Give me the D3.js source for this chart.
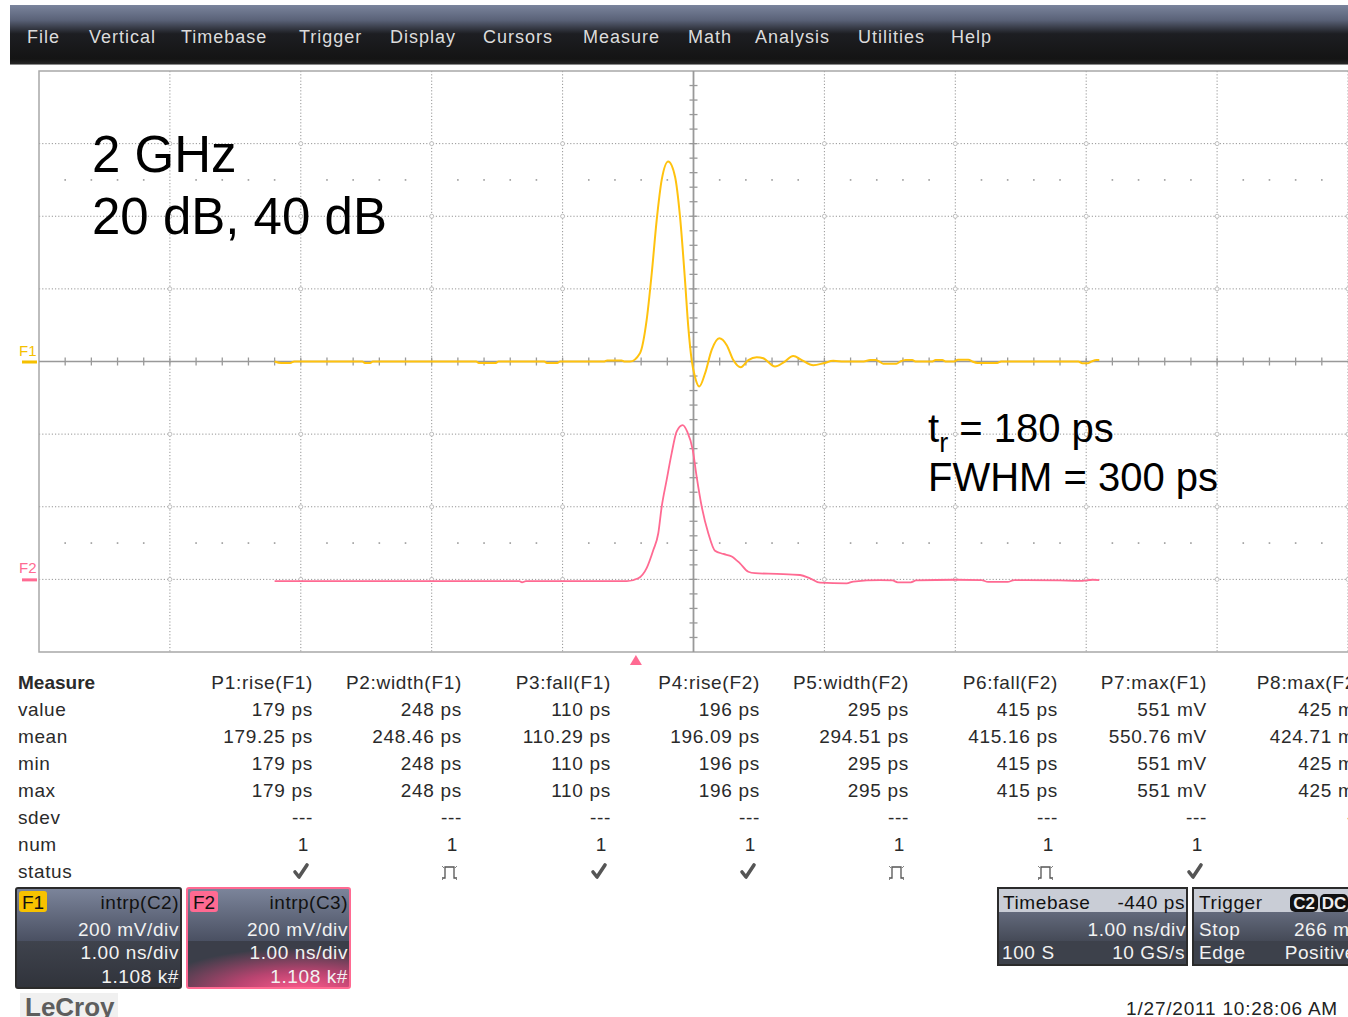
<!DOCTYPE html>
<html><head><meta charset="utf-8">
<script src="https://cdn.jsdelivr.net/npm/d3@7"></script>
<style>
html,body{margin:0;padding:0;background:#fff;overflow:hidden}
text{font-family:"Liberation Sans",Arial,sans-serif}
</style></head><body><svg id="c" width="1348" height="1017"></svg>
<script>
// ---------------- DATA ----------------
const menuItems = ["File","Vertical","Timebase","Trigger","Display","Cursors","Measure","Math","Analysis","Utilities","Help"];
// F1 trace: [time ns, mV]
const f1Samples = [
 [-3.20,0],[-3.15,-4],[-3.08,-4],[-3.05,0],[-2.53,0],[-2.51,-4],[-2.47,-4],[-2.45,0],
 [-1.66,0],[-1.64,-4],[-1.51,-4],[-1.49,0],[-1.14,0],[-1.12,-4],[-1.04,-4],[-1.02,0],
 [-0.68,0],[-0.66,3],[-0.55,3],[-0.53,0],[-0.485,0],[-0.409,23],[-0.358,114],[-0.319,243],
 [-0.281,390],[-0.243,500],[-0.193,551],[-0.141,509],[-0.103,399],[-0.065,224],[-0.040,96],
 [-0.014,4],[0.011,-42],[0.044,-69],[0.088,-33],[0.139,32],[0.197,64],[0.254,45],[0.304,4],
 [0.361,-16],[0.419,4],[0.483,12],[0.533,9],[0.623,-14],[0.686,-3],[0.762,15],[0.827,4],
 [0.915,-10],[0.992,-5],[1.068,2],[1.15,0],[1.30,0],[1.35,4],[1.39,4],[1.42,0],[1.45,-6],
 [1.55,-6],[1.58,0],[1.62,4],[1.67,4],[1.70,0],[1.82,0],[1.85,4],[1.90,4],[1.93,0],[1.99,0],
 [2.02,5],[2.10,5],[2.13,0],[2.17,-4],[2.32,-4],[2.35,0],[2.94,0],[2.97,-5],[3.01,-5],[3.04,0],
 [3.08,4],[3.10,4]
];
// F2 trace: [time ns, mV]
const f2Samples = [
 [-3.20,-5],[-1.33,-5],[-1.31,-8],[-1.28,-5],[-0.510,-5],[-0.422,3],[-0.358,31],[-0.307,81],
 [-0.269,127],[-0.243,200],[-0.205,274],[-0.167,347],[-0.129,407],[-0.083,425],[-0.048,407],
 [-0.006,357],[0.024,283],[0.063,200],[0.113,127],[0.164,79],[0.228,70],[0.292,63],[0.355,44],
 [0.419,21],[0.470,17],[0.636,15],[0.814,12],[0.890,3],[0.967,-9],[1.170,-11],[1.221,-6],
 [1.425,-2],[1.52,-3],[1.56,-8],[1.66,-8],[1.70,-3],[2.00,-1],[2.20,-2],[2.25,-7],[2.40,-7],
 [2.45,-2],[2.80,-3],[2.95,-4],[3.05,-1],[3.10,-2]
];
const measureRows = ["value","mean","min","max","sdev","num","status"];
const measureCols = ["P1:rise(F1)","P2:width(F1)","P3:fall(F1)","P4:rise(F2)","P5:width(F2)","P6:fall(F2)","P7:max(F1)","P8:max(F2)"];
const measValue = ["179 ps","248 ps","110 ps","196 ps","295 ps","415 ps","551 mV","425 mV"];
const measMean  = ["179.25 ps","248.46 ps","110.29 ps","196.09 ps","294.51 ps","415.16 ps","550.76 mV","424.71 mV"];
const measMin   = ["179 ps","248 ps","110 ps","196 ps","295 ps","415 ps","551 mV","425 mV"];
const measMax   = ["179 ps","248 ps","110 ps","196 ps","295 ps","415 ps","551 mV","425 mV"];
const measSdev  = ["---","---","---","---","---","---","---","---"];
const measNum   = ["1","1","1","1","1","1","1","1"];
const measStatus= ["ok","pulse","ok","ok","pulse","pulse","ok","ok"];
const triggerTime = -0.44; // ns
const f2OffsetMv = -600;

// ---------------- LAYOUT ----------------
const W=1348,H=1017;
const plotL=39, plotR=1348, plotT=71, plotB=652;
const menuLayoutX=[27,89,181,299,390,483,583,688,755,858,951];
const svg=d3.select("#c");
const defs=svg.append("defs");
function lg(id,stops,x2=0,y2=1){const g=defs.append("linearGradient").attr("id",id).attr("x1",0).attr("y1",0).attr("x2",x2).attr("y2",y2);
 stops.forEach(s=>g.append("stop").attr("offset",s[0]).attr("stop-color",s[1]));}
lg("menuG",[[0,"#7a849c"],[0.25,"#5a6278"],[0.48,"#1d1e22"],[0.9,"#141414"],[1,"#2a2a2a"]]);
lg("boxTop",[[0,"#7c859b"],[1,"#4a5062"]]);
lg("boxBot",[[0,"#3f434d"],[1,"#30333b"]]);
lg("tbMid",[[0,"#636a7c"],[1,"#454a57"]]);
const rg=defs.append("radialGradient").attr("id","pinkG").attr("cx",0.7).attr("cy",1.05).attr("r",0.9).attr("fx",0.7).attr("fy",1.05);
rg.append("stop").attr("offset",0).attr("stop-color","#ff5a8c");
rg.append("stop").attr("offset",0.45).attr("stop-color","#b84470");
rg.append("stop").attr("offset",1).attr("stop-color","#3b3e49");
defs.append("clipPath").attr("id","scr").append("rect").attr("x",0).attr("y",0).attr("width",W).attr("height",H);

// menu bar
svg.append("rect").attr("x",10).attr("y",5).attr("width",W-10).attr("height",60).attr("fill","url(#menuG)");
svg.append("line").attr("x1",10).attr("x2",W).attr("y1",64.5).attr("y2",64.5).attr("stroke","#8a8a8a").attr("stroke-width",1);
svg.selectAll("text.menu").data(menuItems).join("text").attr("class","menu")
 .attr("x",(d,i)=>menuLayoutX[i]).attr("y",43).attr("font-size",18).attr("letter-spacing",1)
 .attr("fill","#dcdcdc").text(d=>d);

// scales
const x=d3.scaleLinear().domain([-5,5]).range([plotL,plotR]);
const y=d3.scaleLinear().domain([-800,800]).range([plotB,plotT]);
const grid=svg.append("g");
// vertical grid lines
grid.selectAll("line.vg").data(d3.range(-4,6).filter(t=>t!==0)).join("line")
 .attr("x1",d=>x(d)).attr("x2",d=>x(d)).attr("y1",plotT).attr("y2",plotB)
 .attr("stroke","#959595").attr("stroke-width",1).attr("stroke-dasharray","1.2,2");
// horizontal grid lines
grid.selectAll("line.hg").data([-600,-400,-200,200,400,600]).join("line")
 .attr("x1",plotL).attr("x2",plotR).attr("y1",d=>y(d)).attr("y2",d=>y(d))
 .attr("stroke","#959595").attr("stroke-width",1).attr("stroke-dasharray","1.2,2");
// half-division dot rows
const dotXs=d3.range(1,50).map(k=>-5+k*0.2).filter(t=>Math.abs(t-Math.round(t))>0.01);
[500,-500].forEach(v=>{
 grid.selectAll(null).data(dotXs).join("rect").attr("x",d=>x(d)-0.8).attr("y",y(v)-0.8).attr("width",1.6).attr("height",1.6).attr("fill","#9a9a9a");
});
// intersection circles
const ints=[];
d3.range(-4,6).filter(t=>t!==0).forEach(t=>[-600,-400,-200,200,400,600].forEach(v=>ints.push([t,v])));
grid.selectAll("circle.int").data(ints).join("circle").attr("cx",d=>x(d[0])).attr("cy",d=>y(d[1])).attr("r",2)
 .attr("fill","#fff").attr("stroke","#b0b0b0").attr("stroke-width",0.8);
// border
svg.append("path").attr("d",`M${plotR},${plotT}H${plotL}V${plotB}H${plotR}`).attr("fill","none").attr("stroke","#a8a8a8").attr("stroke-width",1.5);
// center axes
svg.append("line").attr("x1",plotL).attr("x2",plotR).attr("y1",y(0)).attr("y2",y(0)).attr("stroke","#999").attr("stroke-width",1.6);
svg.append("line").attr("x1",x(0)).attr("x2",x(0)).attr("y1",plotT).attr("y2",plotB).attr("stroke","#999").attr("stroke-width",1.8);
svg.selectAll("line.ht").data(d3.range(1,50).map(k=>-5+k*0.2)).join("line")
 .attr("x1",d=>x(d)).attr("x2",d=>x(d)).attr("y1",y(0)-4).attr("y2",y(0)+4).attr("stroke","#999").attr("stroke-width",1.3);
svg.selectAll("line.vt").data(d3.range(1,40).map(k=>-800+k*40)).join("line")
 .attr("x1",x(0)-4).attr("x2",x(0)+4).attr("y1",d=>y(d)).attr("y2",d=>y(d)).attr("stroke","#999").attr("stroke-width",1.3);

// traces
const line=d3.line().x(d=>x(d[0])).y(d=>y(d[1])).curve(d3.curveMonotoneX);
svg.append("path").datum(f2Samples.map(d=>[d[0],d[1]+f2OffsetMv])).attr("d",line).attr("fill","none").attr("stroke","#ff6a92").attr("stroke-width",1.8);
svg.append("path").datum(f1Samples).attr("d",line).attr("fill","none").attr("stroke","#ffc20e").attr("stroke-width",2);

// channel markers
svg.append("text").attr("x",19).attr("y",y(0)-6).attr("font-size",15).attr("fill","#f5c000").text("F1");
svg.append("rect").attr("x",22).attr("y",y(0)-1).attr("width",15).attr("height",3).attr("fill","#f5c000");
svg.append("text").attr("x",19).attr("y",y(f2OffsetMv)-6).attr("font-size",15).attr("fill","#ff6a92").text("F2");
svg.append("rect").attr("x",22).attr("y",y(f2OffsetMv)-1).attr("width",15).attr("height",3).attr("fill","#ff6a92");
// trigger marker
const tx=x(triggerTime);
svg.append("path").attr("d",`M${tx},655L${tx+6},665L${tx-6},665Z`).attr("fill","#ff6a92");

// annotations
svg.append("text").attr("x",92).attr("y",172).attr("font-size",51).attr("fill","#000").text("2 GHz");
svg.append("text").attr("x",92).attr("y",234).attr("font-size",51).attr("fill","#000").text("20 dB, 40 dB");
const tr=svg.append("text").attr("x",928).attr("y",442).attr("font-size",40).attr("fill","#000");
tr.append("tspan").text("t");
tr.append("tspan").attr("font-size",27).attr("dy",10).text("r");
tr.append("tspan").attr("dy",-10).text(" = 180 ps");
svg.append("text").attr("x",928).attr("y",491).attr("font-size",40).attr("fill","#000").text("FWHM = 300 ps");

// measurement table
const tbl=svg.append("g").attr("clip-path","url(#scr)");
const colR=i=>313+149*i;
const rowY=i=>716+27*i;
tbl.append("text").attr("x",18).attr("y",689).attr("font-size",19).attr("font-weight","bold").attr("fill","#2a2a2a").text("Measure");
tbl.selectAll("text.rl").data(measureRows).join("text").attr("x",18).attr("y",(d,i)=>rowY(i)).attr("font-size",19).attr("letter-spacing",0.6).attr("fill","#2a2a2a").text(d=>d);
tbl.selectAll("text.ch").data(measureCols).join("text").attr("x",(d,i)=>colR(i)+(i===7?7:0)).attr("y",689).attr("text-anchor","end").attr("font-size",19).attr("letter-spacing",0.7).attr("fill","#2a2a2a").text(d=>d);
[measValue,measMean,measMin,measMax,measSdev,measNum].forEach((arr,r)=>{
 tbl.selectAll(null).data(arr).join("text").attr("x",(d,i)=>colR(i)-(r===5?4:0)+(i===7?12:0)).attr("y",rowY(r)).attr("text-anchor","end")
  .attr("font-size",19).attr("letter-spacing",0.7).attr("fill","#2a2a2a").text(d=>d);
});
measStatus.forEach((s,i)=>{
 const cx=colR(i)-12+(i===7?12:0), cy=rowY(6);
 if(s==="ok"){
  tbl.append("path").attr("d",`M${cx-6},${cy-6}L${cx-2},${cy-1}L${cx+6},${cy-13}`).attr("fill","none").attr("stroke","#555").attr("stroke-width",3.6).attr("stroke-linejoin","round").attr("stroke-linecap","round");
 } else {
  tbl.append("path").attr("d",`M${cx-8},${cy}H${cx-5}V${cy-11}H${cx+4}V${cy}H${cx+7}`).attr("fill","none").attr("stroke","#555").attr("stroke-width",1.3);
  tbl.append("path").attr("d",`M${cx-8},${cy-12}L${cx-6},${cy-10}M${cx+7},${cy-12}L${cx+5},${cy-10}M${cx-8},${cy+2}L${cx-6},${cy}M${cx+7},${cy+2}L${cx+5},${cy}`).attr("stroke","#777").attr("stroke-width",0.9);
 }
});

// channel boxes
function chanBox(x0,w,label,labelColor,src,pink){
 const g=svg.append("g");
 g.append("rect").attr("x",x0).attr("y",888).attr("width",w).attr("height",53).attr("fill","url(#boxTop)");
 g.append("rect").attr("x",x0).attr("y",941).attr("width",w).attr("height",47).attr("fill",pink?"url(#pinkG)":"url(#boxBot)");
 g.append("rect").attr("x",x0).attr("y",888).attr("width",w).attr("height",100).attr("rx",2).attr("fill","none").attr("stroke",pink?"#ff6a92":"#2b2b2b").attr("stroke-width",2);
 g.append("rect").attr("x",x0+3).attr("y",891).attr("width",28).attr("height",21).attr("rx",3).attr("fill",labelColor);
 g.append("text").attr("x",x0+6).attr("y",909).attr("font-size",19).attr("fill","#111").text(label);
 const rx=x0+w-2;
 g.append("text").attr("x",rx).attr("y",909).attr("text-anchor","end").attr("font-size",19).attr("letter-spacing",0.5).attr("fill","#111").text(src);
 [["200 mV/div",936],["1.00 ns/div",959],["1.108 k#",983]].forEach(t=>g.append("text").attr("x",rx).attr("y",t[1]).attr("text-anchor","end").attr("font-size",19).attr("letter-spacing",0.6).attr("fill","#f2f2f2").text(t[0]));
}
chanBox(16,165,"F1","#f7c200","intrp(C2)",false);
chanBox(187,163,"F2","#ff6a92","intrp(C3)",true);

// timebase box
const tb=svg.append("g");
tb.append("rect").attr("x",998).attr("y",888).attr("width",189).attr("height",24).attr("fill","#c9cdd6");
tb.append("rect").attr("x",998).attr("y",912).attr("width",189).attr("height",29).attr("fill","url(#tbMid)");
tb.append("rect").attr("x",998).attr("y",941).attr("width",189).attr("height",24).attr("fill","#3d414b");
tb.append("rect").attr("x",998).attr("y",888).attr("width",189).attr("height",77).attr("fill","none").attr("stroke","#2b2b2b").attr("stroke-width",2);
tb.append("text").attr("x",1003).attr("y",909).attr("font-size",19).attr("letter-spacing",0.6).attr("fill","#111").text("Timebase");
tb.append("text").attr("x",1185).attr("y",909).attr("text-anchor","end").attr("font-size",19).attr("letter-spacing",0.6).attr("fill","#111").text("-440 ps");
tb.append("text").attr("x",1186).attr("y",936).attr("text-anchor","end").attr("font-size",19).attr("letter-spacing",0.6).attr("fill","#f2f2f2").text("1.00 ns/div");
tb.append("text").attr("x",1002).attr("y",959).attr("font-size",19).attr("letter-spacing",0.6).attr("fill","#f2f2f2").text("100 S");
tb.append("text").attr("x",1185).attr("y",959).attr("text-anchor","end").attr("font-size",19).attr("letter-spacing",0.6).attr("fill","#f2f2f2").text("10 GS/s");
// trigger box
const tg=svg.append("g").attr("clip-path","url(#scr)");
tg.append("rect").attr("x",1193).attr("y",888).attr("width",180).attr("height",24).attr("fill","#c9cdd6");
tg.append("rect").attr("x",1193).attr("y",912).attr("width",180).attr("height",29).attr("fill","url(#tbMid)");
tg.append("rect").attr("x",1193).attr("y",941).attr("width",180).attr("height",24).attr("fill","#3d414b");
tg.append("rect").attr("x",1193).attr("y",888).attr("width",180).attr("height",77).attr("fill","none").attr("stroke","#2b2b2b").attr("stroke-width",2);
tg.append("text").attr("x",1199).attr("y",909).attr("font-size",19).attr("letter-spacing",0.6).attr("fill","#111").text("Trigger");
[["C2",1290],["DC",1320]].forEach(b=>{
 tg.append("rect").attr("x",b[1]).attr("y",894).attr("width",28).attr("height",18).attr("rx",5).attr("fill","#111");
 tg.append("text").attr("x",b[1]+14).attr("y",909).attr("text-anchor","middle").attr("font-size",17).attr("font-weight","bold").attr("fill","#eee").text(b[0]);
});
tg.append("text").attr("x",1199).attr("y",936).attr("font-size",19).attr("letter-spacing",0.6).attr("fill","#f2f2f2").text("Stop");
tg.append("text").attr("x",1363).attr("y",936).attr("text-anchor","end").attr("font-size",19).attr("letter-spacing",0.6).attr("fill","#f2f2f2").text("266 mV");
tg.append("text").attr("x",1199).attr("y",959).attr("font-size",19).attr("letter-spacing",0.6).attr("fill","#f2f2f2").text("Edge");
tg.append("text").attr("x",1356).attr("y",959).attr("text-anchor","end").attr("font-size",19).attr("letter-spacing",0.6).attr("fill","#f2f2f2").text("Positive");

// logo and date
svg.append("rect").attr("x",20).attr("y",993).attr("width",98).attr("height",24).attr("fill","#f0f0f0");
svg.append("text").attr("x",25).attr("y",1016).attr("font-size",26).attr("font-weight","bold").attr("fill","#5e5e5e").text("LeCroy");
svg.append("text").attr("x",1338).attr("y",1015).attr("text-anchor","end").attr("font-size",19).attr("letter-spacing",0.8).attr("fill","#222").text("1/27/2011 10:28:06 AM");
</script></body></html>
